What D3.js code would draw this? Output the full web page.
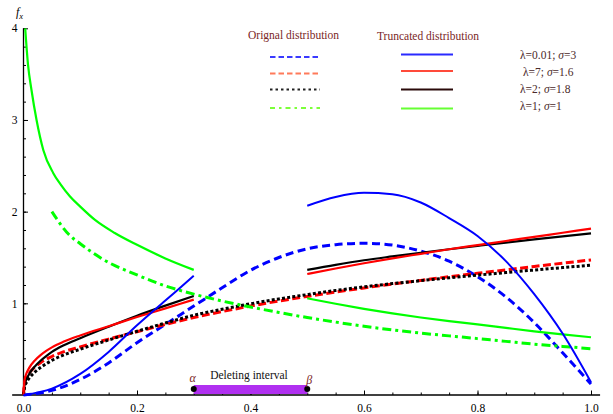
<!DOCTYPE html>
<html>
<head>
<meta charset="utf-8">
<script src="https://cdn.jsdelivr.net/npm/d3@7"></script>
<style>
  body { margin: 0; background: #fff; }
  text { font-family: "Liberation Serif", "DejaVu Serif", serif; }
</style>
</head>
<body>
<svg id="chart" width="613" height="414"></svg>
<script>
// original densities (dashed / dotted / dot-dashed)
const blueOrig = [[0,0],[0.05,0.05],[0.1,0.17],[0.15,0.35],[0.2,0.57],[0.25,0.77],[0.3,0.97],[0.35,1.17],[0.4,1.36],[0.45,1.5],[0.5,1.595],[0.55,1.64],[0.6,1.655],[0.65,1.635],[0.7,1.57],[0.75,1.46],[0.8,1.29],[0.85,1.07],[0.9,0.79],[0.95,0.46],[1,0.12]];
const redOrig = [[0,0],[0.002,0.137],[0.005,0.189],[0.01,0.24],[0.02,0.306],[0.03,0.353],[0.04,0.39],[0.05,0.42],[0.07,0.47],[0.1,0.525],[0.15,0.61],[0.2,0.69],[0.25,0.77],[0.3,0.845],[0.35,0.91],[0.4,0.97],[0.45,1.025],[0.5,1.075],[0.55,1.123],[0.6,1.168],[0.65,1.21],[0.7,1.25],[0.75,1.29],[0.8,1.328],[0.85,1.365],[0.9,1.402],[0.95,1.438],[1,1.473]];
const blackOrig = [[0,0],[0.002,0.088],[0.005,0.134],[0.01,0.183],[0.02,0.25],[0.03,0.3],[0.04,0.341],[0.05,0.378],[0.07,0.434],[0.1,0.5],[0.15,0.6],[0.2,0.695],[0.25,0.785],[0.3,0.87],[0.35,0.935],[0.4,0.995],[0.45,1.048],[0.5,1.095],[0.55,1.14],[0.6,1.18],[0.65,1.215],[0.7,1.247],[0.75,1.278],[0.8,1.307],[0.85,1.336],[0.9,1.363],[0.95,1.39],[1,1.415]];
const greenOrig = [[0.05,2.0],[0.08,1.75],[0.1,1.65],[0.14,1.48],[0.2,1.31],[0.25,1.19],[0.3,1.1],[0.35,1.025],[0.4,0.96],[0.45,0.9],[0.5,0.845],[0.55,0.795],[0.6,0.75],[0.65,0.71],[0.7,0.675],[0.75,0.645],[0.8,0.615],[0.85,0.585],[0.9,0.555],[0.95,0.53],[1,0.505]];

// truncated densities, left part [0, 0.3] and right part [0.5, 1]
const blueTruncA = [[0,0],[0.05,0.07],[0.1,0.23],[0.15,0.47],[0.2,0.76],[0.25,1.03],[0.3,1.3]];
const blueTruncB = [[0.5,2.065],[0.55,2.16],[0.6,2.205],[0.65,2.19],[0.7,2.1],[0.75,1.93],[0.8,1.735],[0.85,1.46],[0.9,1.1],[0.95,0.67],[1,0.14]];
const redTruncA = [[0,0],[0.002,0.169],[0.005,0.232],[0.01,0.296],[0.02,0.377],[0.03,0.435],[0.04,0.481],[0.05,0.52],[0.07,0.58],[0.1,0.65],[0.15,0.75],[0.2,0.85],[0.25,0.945],[0.3,1.04]];
const redTruncB = [[0.5,1.32],[0.55,1.38],[0.6,1.437],[0.65,1.49],[0.7,1.54],[0.75,1.59],[0.8,1.635],[0.85,1.68],[0.9,1.725],[0.95,1.77],[1,1.815]];
const blackTruncA = [[0,0],[0.002,0.11],[0.005,0.167],[0.01,0.228],[0.02,0.311],[0.03,0.374],[0.04,0.425],[0.05,0.47],[0.07,0.54],[0.1,0.62],[0.15,0.745],[0.2,0.865],[0.25,0.975],[0.3,1.08]];
const blackTruncB = [[0.5,1.364],[0.55,1.42],[0.6,1.47],[0.65,1.512],[0.7,1.552],[0.75,1.59],[0.8,1.627],[0.85,1.663],[0.9,1.697],[0.95,1.73],[1,1.762]];
const greenTruncA = [[0.003,4.0],[0.008,3.6],[0.014,3.33],[0.023,3.0],[0.035,2.67],[0.0525,2.42],[0.065,2.3],[0.082,2.165],[0.1,2.055],[0.126,1.91],[0.16,1.77],[0.2,1.638],[0.25,1.49],[0.3,1.365]];
const greenTruncB = [[0.5,1.055],[0.55,0.995],[0.6,0.94],[0.65,0.89],[0.7,0.845],[0.75,0.805],[0.8,0.77],[0.85,0.732],[0.9,0.695],[0.95,0.662],[1,0.63]];

const paramLabels = [["0.01","3"],["7","1.6"],["2","1.8"],["1","1"]];
const xTicks = [0, 0.2, 0.4, 0.6, 0.8, 1.0];
const yTicks = [1, 2, 3, 4];
const deleting = [0.3, 0.5];

var svg = d3.select("#chart");
var x = d3.scaleLinear().domain([0, 1]).range([23.5, 591]);
var y = d3.scaleLinear().domain([0, 4]).range([395, 28.3]);

// axes, Mathematica style (ticks inward)
svg.append("line")
  .attr("x1", x(-0.02)).attr("x2", x(1.016))
  .attr("y1", y(0)).attr("y2", y(0))
  .attr("stroke", "#000").attr("stroke-width", 1.3);
svg.append("line")
  .attr("x1", x(0)).attr("x2", x(0))
  .attr("y1", y(0)).attr("y2", y(4))
  .attr("stroke", "#000").attr("stroke-width", 1.3);

var xMinor = svg.append("g").attr("transform", "translate(0," + y(0) + ")")
  .call(d3.axisBottom(x).tickValues(d3.range(0, 1.001, 0.05)).tickSize(-2.5).tickFormat(""));
var xMajor = svg.append("g").attr("transform", "translate(0," + y(0) + ")")
  .call(d3.axisBottom(x).tickValues(xTicks).tickSize(-4.5).tickPadding(9).tickFormat(d3.format(".1f")));
var yMinor = svg.append("g").attr("transform", "translate(" + x(0) + ",0)")
  .call(d3.axisLeft(y).tickValues(d3.range(0, 4.001, 0.2)).tickSize(-2.5).tickFormat(""));
var yMajor = svg.append("g").attr("transform", "translate(" + x(0) + ",0)")
  .call(d3.axisLeft(y).tickValues(yTicks).tickSize(-4.5).tickPadding(6).tickFormat(d3.format("d")));

[xMinor, xMajor, yMinor, yMajor].forEach(function (g) {
  g.select(".domain").remove();
  g.selectAll(".tick line").attr("stroke", "#000");
  g.selectAll(".tick text")
    .attr("fill", "#000")
    .style("font-family", "'Liberation Serif', serif")
    .style("font-size", "11.5px");
});

// f_x label
var fx = svg.append("text").attr("x", 16).attr("y", 16)
  .style("font-size", "12px").style("font-style", "italic");
fx.append("tspan").text("f");
fx.append("tspan").attr("dy", 3).style("font-size", "8.5px").text("x");

var line = d3.line()
  .x((d) => x(d[0]))
  .y((d) => y(d[1]))
  .curve(d3.curveMonotoneX);

var curves = [
  { data: blueOrig, color: "#0000ff", width: 3, dash: "8,4.5" },
  { data: redOrig, color: "#ff0000", width: 3, dash: "8,3.5" },
  { data: blackOrig, color: "#000000", width: 3, dash: "3,2.2" },
  { data: greenOrig, color: "#00ff00", width: 3, dash: "9,4,3,4" },
  { data: greenTruncA, color: "#00ff00", width: 2.2 },
  { data: greenTruncB, color: "#00ff00", width: 2.2 },
  { data: blackTruncA, color: "#000000", width: 2.2 },
  { data: blackTruncB, color: "#000000", width: 2.2 },
  { data: redTruncA, color: "#ff0000", width: 2.2 },
  { data: redTruncB, color: "#ff0000", width: 2.2 },
  { data: blueTruncA, color: "#0000ff", width: 2 },
  { data: blueTruncB, color: "#0000ff", width: 2 }
];

svg.append("g").selectAll("path")
  .data(curves)
  .join("path")
  .attr("d", (c) => line(c.data))
  .attr("fill", "none")
  .attr("stroke", (c) => c.color)
  .attr("stroke-width", (c) => c.width)
  .attr("stroke-dasharray", (c) => c.dash || null);

// deleting interval
var del = svg.append("g");
del.append("rect")
  .attr("x", x(deleting[0])).attr("y", 385)
  .attr("width", x(deleting[1]) - x(deleting[0])).attr("height", 9)
  .attr("fill", "#b030f0");
del.selectAll("circle").data(deleting).join("circle")
  .attr("cx", (d) => x(d)).attr("cy", 389).attr("r", 3).attr("fill", "#000");
del.append("text").attr("x", x(deleting[0]) - 1).attr("y", 382)
  .attr("text-anchor", "middle").style("font-style", "italic").style("font-size", "12px")
  .attr("fill", "#7a2626").text("α");
del.append("text").attr("x", x(deleting[1]) + 2).attr("y", 384)
  .attr("text-anchor", "middle").style("font-style", "italic").style("font-size", "12px")
  .attr("fill", "#7a2626").text("β");
del.append("text").attr("x", 249).attr("y", 379)
  .attr("text-anchor", "middle").style("font-size", "11.5px").attr("fill", "#111")
  .text("Deleting interval");

// legend
var legend = svg.append("g");
legend.append("text").attr("x", 248).attr("y", 39).style("font-size", "11.5px")
  .attr("fill", "#7a2626").text("Orignal distribution");
legend.append("text").attr("x", 377).attr("y", 40).style("font-size", "11.5px")
  .attr("fill", "#7a2626").text("Truncated distribution");

var legendOrig = [
  { y: 57, color: "#3a3aff", dash: "5.5,3" },
  { y: 73.5, color: "#ff7a5a", dash: "5.5,3" },
  { y: 89.5, color: "#222", dash: "2.5,3" },
  { y: 108, color: "#7cff3a", dash: "5,4,2.5,4" }
];
var legendTrunc = [
  { y: 54.5, color: "#2a2aff" },
  { y: 71, color: "#ff4a3a" },
  { y: 89.5, color: "#2a0a0a" },
  { y: 108.5, color: "#66ff33" }
];
legend.selectAll(".lo").data(legendOrig).join("line").attr("class", "lo")
  .attr("x1", 270).attr("x2", 320)
  .attr("y1", (d) => d.y).attr("y2", (d) => d.y)
  .attr("stroke", (d) => d.color).attr("stroke-width", 2)
  .attr("stroke-dasharray", (d) => d.dash);
legend.selectAll(".lt").data(legendTrunc).join("line").attr("class", "lt")
  .attr("x1", 401).attr("x2", 453)
  .attr("y1", (d) => d.y).attr("y2", (d) => d.y)
  .attr("stroke", (d) => d.color).attr("stroke-width", 2);

var labelY = [59, 76, 93, 110];
var labelX = [520, 523, 520, 520];
paramLabels.forEach(function (p, i) {
  var t = legend.append("text").attr("x", labelX[i]).attr("y", labelY[i])
    .style("font-size", "11.5px").attr("fill", "#4a2a2a");
  t.append("tspan").text("λ=" + p[0] + "; ");
  t.append("tspan").style("font-style", "italic").text("σ");
  t.append("tspan").text("=" + p[1]);
});
</script>
</body>
</html>
